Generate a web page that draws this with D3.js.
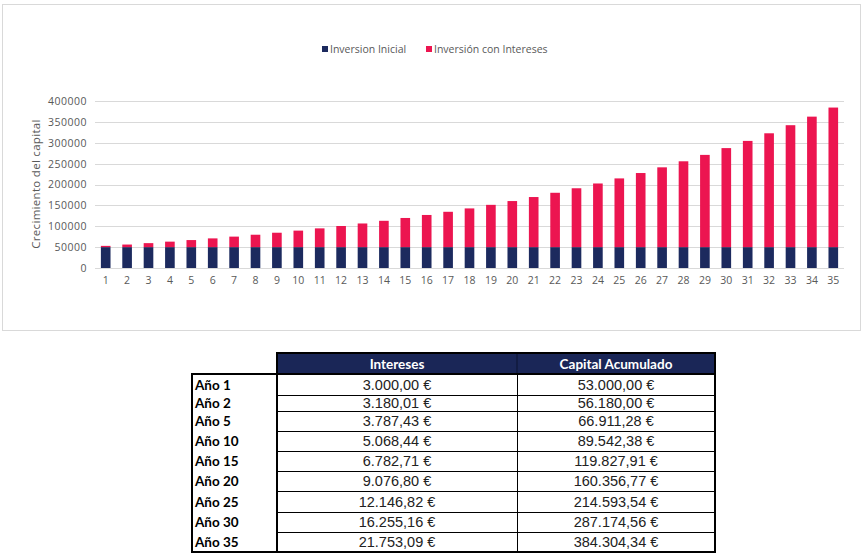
<!DOCTYPE html>
<html><head><meta charset="utf-8">
<script src="https://cdn.jsdelivr.net/npm/d3@7"></script>
<style>
html,body{margin:0;padding:0;background:#fff;}
svg{display:block;}
</style></head>
<body>
<svg id="c" width="867" height="560"></svg>
<script>
const years = ["1","2","3","4","5","6","7","8","9","10","11","12","13","14","15","16","17","18","19","20","21","22","23","24","25","26","27","28","29","30","31","32","33","34","35"];
const inversionInicial = [50000,50000,50000,50000,50000,50000,50000,50000,50000,50000,50000,50000,50000,50000,50000,50000,50000,50000,50000,50000,50000,50000,50000,50000,50000,50000,50000,50000,50000,50000,50000,50000,50000,50000,50000];
const capitalTotal = [53000,56180,59551,63124,66911,70926,75182,79692,84474,89542,94915,100610,106646,113045,119828,127018,134639,142717,151280,160357,169978,180177,190987,202447,214594,227469,241117,255584,270919,287175,304405,322669,342030,362551,384304];
const yTicks = [0,50000,100000,150000,200000,250000,300000,350000,400000];
const seriesNames = ["Inversion Inicial","Inversión con Intereses"];
const colors = ["#1c2a5e","#ec1550"];

const tableHeaders = ["Intereses","Capital Acumulado"];
const tableRows = ["Año 1","Año 2","Año 5","Año 10","Año 15","Año 20","Año 25","Año 30","Año 35"];
const tableIntereses = ["3.000,00 €","3.180,01 €","3.787,43 €","5.068,44 €","6.782,71 €","9.076,80 €","12.146,82 €","16.255,16 €","21.753,09 €"];
const tableCapital = ["53.000,00 €","56.180,00 €","66.911,28 €","89.542,38 €","119.827,91 €","160.356,77 €","214.593,54 €","287.174,56 €","384.304,34 €"];

const svg = d3.select("#c");
const chartFont = "'Open Sans', 'Noto Sans', sans-serif";

// chart frame
svg.append("rect").attr("x",2.5).attr("y",4.5).attr("width",858).attr("height",326)
  .attr("fill","#fff").attr("stroke","#d9d9d9");

const x = d3.scaleBand().domain(years).range([95,844]).paddingInner(0.55).paddingOuter(0.275);
const y = d3.scaleLinear().domain([0,400000]).range([268,101]);

// gridlines
svg.append("g").selectAll("line").data(yTicks).join("line")
  .attr("x1",95).attr("x2",844)
  .attr("y1",d=>Math.round(y(d))+0.5).attr("y2",d=>Math.round(y(d))+0.5)
  .attr("stroke","#d9d9d9").attr("stroke-width",1);

// y axis
const yAxis = svg.append("g").attr("transform","translate(89,0)")
  .call(d3.axisLeft(y).tickValues(yTicks).tickSize(0).tickPadding(2).tickFormat(d3.format("d")));
yAxis.select(".domain").remove();
yAxis.selectAll("text").attr("font-family",chartFont).attr("font-size","10.5px").attr("letter-spacing","0.5px").attr("fill","#595959");

// x axis
const xAxis = svg.append("g").attr("transform","translate(0,268)")
  .call(d3.axisBottom(x).tickSize(0).tickPadding(9));
xAxis.select(".domain").remove();
xAxis.selectAll("text").attr("font-family",chartFont).attr("font-size","10.5px").attr("fill","#595959");

// stacked data
const stackData = years.map((yr,i)=>({year:yr, base:inversionInicial[i], extra:capitalTotal[i]-inversionInicial[i]}));
const stack = d3.stack().keys(["base","extra"])(stackData);
svg.append("g").selectAll("g").data(stack).join("g")
  .attr("fill",(d,i)=>colors[i])
  .selectAll("rect").data(d=>d).join("rect")
  .attr("x",d=>x(d.data.year))
  .attr("width",x.bandwidth())
  .attr("y",d=>y(d[1]))
  .attr("height",d=>y(d[0])-y(d[1]));

// y title
svg.append("text").attr("transform","translate(40,184) rotate(-90)")
  .attr("text-anchor","middle").attr("font-family",chartFont).attr("font-size","11.5px")
  .attr("letter-spacing","0.3px")
  .attr("fill","#595959").text("Crecimiento del capital");

// legend
const legendX = [322,426];
const lg = svg.append("g").selectAll("g").data(seriesNames).join("g")
  .attr("transform",(d,i)=>`translate(${legendX[i]},45)`);
lg.append("rect").attr("width",6).attr("height",6).attr("y",1).attr("fill",(d,i)=>colors[i]);
lg.append("text").attr("x",8).attr("y",8).attr("font-family",chartFont).attr("font-size","10.5px")
  .attr("fill","#595959").text(d=>d);

// table
const tblFont = "'Liberation Sans', Arial, sans-serif";
const labFont = "Lato, 'Open Sans', sans-serif";
const colX = [277,517,715];
const rowY = [374,395,411,431,451,471,491,512,532,552];
const t = svg.append("g");
// header
t.append("rect").attr("x",colX[0]).attr("y",353).attr("width",colX[2]-colX[0]).attr("height",21).attr("fill","#1a2657");
t.selectAll("text.h").data(tableHeaders).join("text").attr("class","h")
  .attr("x",(d,i)=>(colX[i]+colX[i+1])/2).attr("y",369).attr("text-anchor","middle")
  .attr("font-family",labFont).attr("font-weight","bold").attr("font-size","13.5px").attr("fill","#fff").text(d=>d);
// header vertical separator
t.append("line").attr("x1",colX[1]).attr("x2",colX[1]).attr("y1",353).attr("y2",374).attr("stroke","#0b1230").attr("stroke-width",1);
// header outer border
t.append("rect").attr("x",colX[0]).attr("y",353).attr("width",colX[2]-colX[0]).attr("height",21)
  .attr("fill","none").attr("stroke","#000").attr("stroke-width",2);
// row lines in data columns
t.selectAll("line.r").data(rowY.slice(1,-1)).join("line").attr("class","r")
  .attr("x1",colX[0]).attr("x2",colX[2]).attr("y1",d=>d+0.5).attr("y2",d=>d+0.5).attr("stroke","#000").attr("stroke-width",1);
// vertical separator in data
t.append("line").attr("x1",colX[1]+0.5).attr("x2",colX[1]+0.5).attr("y1",374).attr("y2",552).attr("stroke","#000").attr("stroke-width",1);
// label column border
t.append("rect").attr("x",192).attr("y",374).attr("width",colX[0]-192).attr("height",178)
  .attr("fill","none").attr("stroke","#000").attr("stroke-width",2);
// data block border
t.append("rect").attr("x",colX[0]).attr("y",374).attr("width",colX[2]-colX[0]).attr("height",178)
  .attr("fill","none").attr("stroke","#000").attr("stroke-width",2);
// row labels and values
tableRows.forEach((r,i)=>{
  const cy = (rowY[i]+rowY[i+1])/2 + 5;
  t.append("text").attr("x",195).attr("y",cy).attr("font-family",labFont).attr("font-weight","bold")
    .attr("font-size","13.5px").attr("fill","#000").text(r);
  t.append("text").attr("x",(colX[0]+colX[1])/2).attr("y",cy).attr("text-anchor","middle")
    .attr("font-family",tblFont).attr("font-size","14.5px").attr("fill","#222").text(tableIntereses[i]);
  t.append("text").attr("x",(colX[1]+colX[2])/2).attr("y",cy).attr("text-anchor","middle")
    .attr("font-family",tblFont).attr("font-size","14.5px").attr("fill","#222").text(tableCapital[i]);
});
</script>
</body></html>
